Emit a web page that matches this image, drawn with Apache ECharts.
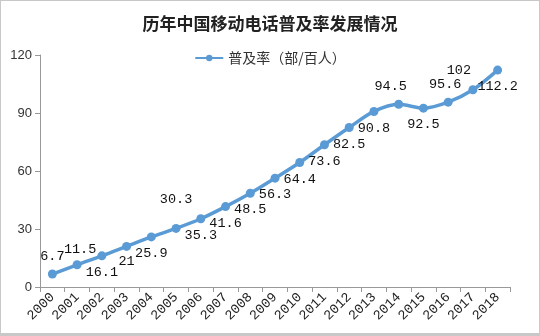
<!DOCTYPE html>
<html><head><meta charset="utf-8">
<script src="https://cdn.jsdelivr.net/npm/echarts@6/dist/echarts.min.js"></script>
<style>html,body{margin:0;padding:0;background:#fff}#c{width:540px;height:336px;box-sizing:border-box;border:1px solid #c8c8c8;border-bottom-width:3px}</style>
</head><body><div id="c"></div>
<script>
var categories = ['2000','2001','2002','2003','2004','2005','2006','2007','2008','2009','2010','2011','2012','2013','2014','2015','2016','2017','2018'];
var values = [6.7,11.5,16.1,21,25.9,30.3,35.3,41.6,48.5,56.3,64.4,73.6,82.5,90.8,94.5,92.5,95.6,102,112.2];
var labelTexts = ['6.7','11.5','16.1','21','25.9','30.3','35.3','41.6','48.5','56.3','64.4','73.6','82.5','90.8','94.5','92.5','95.6','102','112.2'];
var yTicks = [0,30,60,90,120];
var seriesName = '普及率（部/百人）';
var titleText = '历年中国移动电话普及率发展情况';

var labelPos = {0:['top',[0,-1]],1:['top',[3,1]],2:['bottom',[0,0]],3:['bottom',[0,-1]],4:['bottom',[0,0]],
  5:['top',[0,-12]],14:['top',[-8,-1]],16:['top',[-3,-1]],17:['top',[-14,-3]]};
var data = values.map(function(v,i){
  var p = labelPos[i] || ['bottom',[0,0]];
  return {value:v, label:{position:p[0], offset:p[1], formatter: labelTexts[i]}};
});
var chart = echarts.init(document.getElementById('c'));
chart.setOption({
  animation:false,
  title:{text:titleText,left:'center',top:9,textStyle:{fontSize:17,fontWeight:'bold',color:'#222',fontFamily:'Noto Sans CJK SC'}},
  legend:{data:[seriesName],top:45,left:'center',itemWidth:28,itemHeight:8,textStyle:{fontSize:14,color:'#333',fontFamily:'Noto Sans CJK SC'}},
  grid:{left:39,right:29,top:54,bottom:46},
  xAxis:{type:'category',data:categories,boundaryGap:true,
    axisLine:{lineStyle:{color:'#999'}},
    axisTick:{show:true,length:5,alignWithLabel:false,lineStyle:{color:'#999'}},
    axisLabel:{rotate:45,fontSize:13.5,color:'#222',fontFamily:'Liberation Mono',margin:8,interval:0}},
  yAxis:{type:'value',min:0,max:120,interval:30,
    axisLine:{show:true,lineStyle:{color:'#999'}},
    axisTick:{show:true,length:5,lineStyle:{color:'#999'}},
    splitLine:{show:false},
    axisLabel:{fontSize:13,color:'#333',fontFamily:'Liberation Sans',margin:8}},
  series:[{name:seriesName,type:'line',smooth:0.3,data:data,
    symbol:'circle',symbolSize:9,
    lineStyle:{width:3.5,color:'#5b9bd5'},
    itemStyle:{color:'#5b9bd5'},
    label:{show:true,fontSize:13.5,color:'#111',fontFamily:'Liberation Mono',distance:5}}]
});
</script></body></html>
